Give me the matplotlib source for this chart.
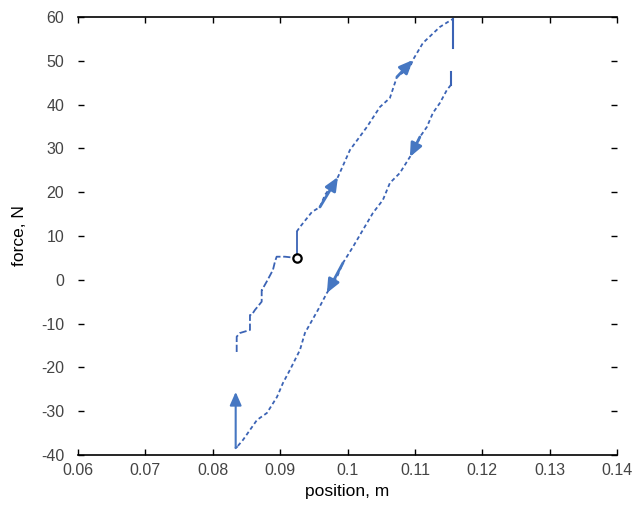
import matplotlib
matplotlib.use("Agg")
import matplotlib.pyplot as plt

plt.rcParams['font.family'] = ['Liberation Sans', 'DejaVu Sans']
plt.rcParams['axes.unicode_minus'] = False

# start marker
start_x = [0.09245]
start_y = [4.98]

# stair segment leading to start point (left part)
stair_x = [0.08355, 0.08355, 0.08404, 0.08552, 0.08552, 0.08577, 0.08626, 0.08726, 0.08726,
           0.08730, 0.08800, 0.08893, 0.08923, 0.08948, 0.09071, 0.09245]
stair_y = [-16.48, -12.99, -12.15, -11.46, -8.04, -8.04, -6.89, -5.00, -2.33,
           -2.33, -0.43, 2.24, 4.13, 5.27, 5.27, 4.98]

# rise from start to upper branch
rise_x = [0.09245, 0.09245]
rise_y = [4.98, 10.98]

# upper branch (loading)
up_x = [0.09245, 0.09294, 0.09472, 0.09591, 0.09665, 0.09858, 0.10036, 0.10288, 0.10481,
        0.10629, 0.10733, 0.10926, 0.10970, 0.11119, 0.11371, 0.11490, 0.11564]
up_y = [10.98, 12.05, 15.48, 16.62, 19.36, 23.47, 29.63, 34.89, 39.45,
        41.5, 46.30, 48.5, 50.18, 54.06, 57.72, 58.86, 59.54]

# drop at the right end (two pieces)
drop1_x = [0.11564, 0.11564]
drop1_y = [59.54, 52.9]
drop2_x = [0.11534, 0.11534]
drop2_y = [47.4, 44.47]

# lower branch (unloading)
low_x = [0.11534, 0.11475, 0.11371, 0.11267, 0.11178, 0.11074, 0.11000, 0.10926, 0.10777,
         0.10629, 0.10525, 0.10377, 0.10228, 0.10080, 0.09932, 0.09843, 0.09694, 0.09561,
         0.09368, 0.09294, 0.09145, 0.09042, 0.08953, 0.08804, 0.08656, 0.08552, 0.08448,
         0.08359]
low_y = [44.47, 43.33, 40.36, 38.08, 34.89, 32.60, 29.63, 28.04, 24.38,
         22.10, 18.22, 15.25, 11.37, 7.49, 3.84, 0.64, -3.01, -6.89,
         -12.15, -16.03, -20.59, -23.56, -26.76, -30.41, -32.01, -34.29, -36.58,
         -38.17]

# vertical return at the left-bottom
ret_x = [0.08340, 0.08340]
ret_y = [-38.4, -25.6]

xticks = [0.06, 0.07, 0.08, 0.09, 0.1, 0.11, 0.12, 0.13, 0.14]
xtick_labels = ['0.06', '0.07', '0.08', '0.09', '0.1', '0.11', '0.12', '0.13', '0.14']
yticks = [-40, -30, -20, -10, 0, 10, 20, 30, 40, 50, 60]

line_c = '#3b63b5'
arrow_c = '#4677c2'

fig = plt.figure(figsize=(6.37, 5.13), dpi=100)
ax = fig.add_axes([0.1225, 0.1131, 0.8461, 0.8538])

dash = (0, (2.2, 1.6))
ax.plot(stair_x, stair_y, color=line_c, lw=1.3, linestyle=(0, (4, 1.5)))
ax.plot(rise_x, rise_y, color=line_c, lw=1.3)
ax.plot(up_x, up_y, color=line_c, lw=1.3, linestyle=dash)
ax.plot(drop1_x, drop1_y, color=line_c, lw=1.5)
ax.plot(drop2_x, drop2_y, color=line_c, lw=1.5)
ax.plot(low_x, low_y, color=line_c, lw=1.3, linestyle=dash)
ax.plot([low_x[-1], ret_x[0]], [low_y[-1], ret_y[0]], color=line_c, lw=1.3)

def arrow(x0, y0, x1, y1, lw=1.5):
    ax.annotate('', xy=(x1, y1), xytext=(x0, y0),
                arrowprops=dict(arrowstyle='-|>,head_length=0.8,head_width=0.35',
                                color=arrow_c, lw=lw, shrinkA=0, shrinkB=0))

arrow(ret_x[0], ret_y[0], ret_x[1], ret_y[1])
# upper branch arrows (pointing up-right)
arrow(up_x[3], up_y[3], up_x[5], up_y[5], lw=2)
arrow(up_x[10], up_y[10], up_x[12], up_y[12], lw=2)
# lower branch arrows (pointing down-left)
arrow(low_x[5], low_y[5], low_x[7], low_y[7], lw=2)
arrow(low_x[14], low_y[14], low_x[16], low_y[16], lw=2)

ax.plot(start_x, start_y, marker='o', mfc='white', mec='black', mew=1.6, ms=6, ls='none')

ax.set_xlim(0.06, 0.14)
ax.set_ylim(-40, 60)
ax.set_xticks(xticks)
ax.set_xticklabels(xtick_labels)
ax.set_yticks(yticks)
ax.spines['left'].set_visible(False)
ax.spines['right'].set_visible(False)
ax.spines['top'].set_linewidth(1.2)
ax.spines['bottom'].set_linewidth(1.2)
ax.tick_params(direction='in', length=4, width=1, top=True, right=True,
               labelsize=11.5, labelcolor='#444444')
ax.tick_params(axis='x', pad=6)
ax.tick_params(axis='y', pad=10)

ax.set_xlabel('position, m', fontsize=12.5, labelpad=4)
ax.set_ylabel('force, N', fontsize=12.5, labelpad=10)

fig.savefig('out.png', dpi=100)
